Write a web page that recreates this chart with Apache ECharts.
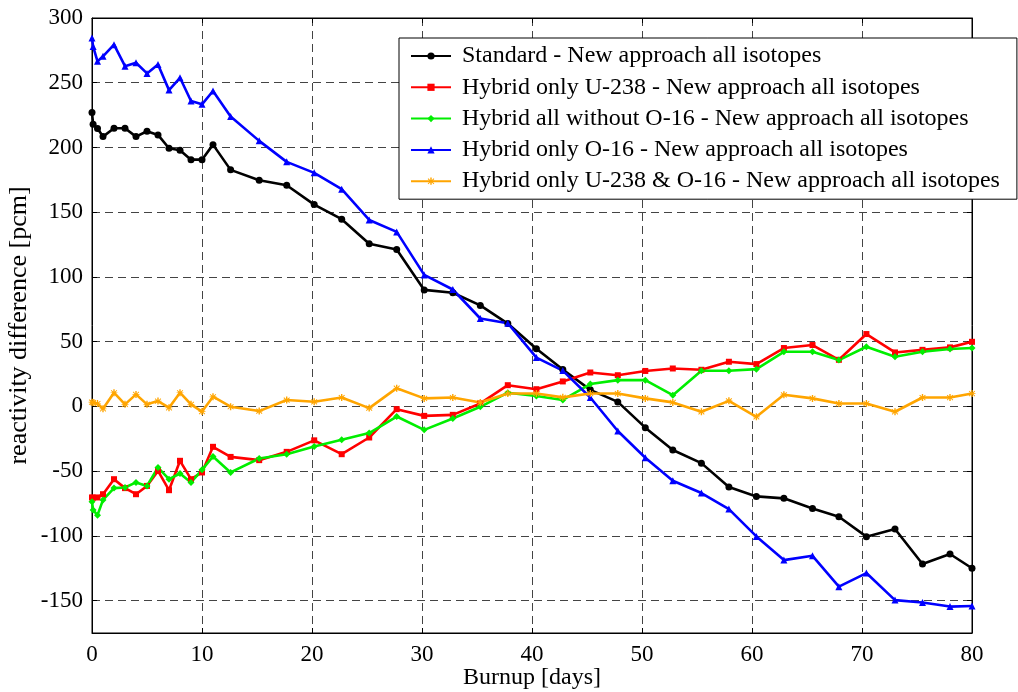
<!DOCTYPE html>
<html>
<head>
<meta charset="utf-8">
<title>Reactivity difference vs burnup</title>
<script src="https://cdn.jsdelivr.net/npm/echarts@6/dist/echarts.min.js"></script>
<style>
  html, body { margin: 0; padding: 0; background: #fff; }
  #chart { width: 1018px; height: 692px; }
</style>
</head>
<body>
<div id="chart"></div>
<script>
// Burnup steps [days]
const burnup = [0, 0.1, 0.5, 1, 2, 3, 4, 5, 6, 7, 8, 9, 10, 11,
  12.6, 15.2, 17.7, 20.2, 22.7, 25.2, 27.7, 30.2, 32.8, 35.3, 37.8, 40.4, 42.8, 45.3,
  47.8, 50.3, 52.8, 55.4, 57.9, 60.4, 62.9, 65.5, 67.9, 70.4, 73, 75.5, 78, 80];

// Reactivity differences [pcm]
const standard = [227, 218, 214.6, 208.4, 214.8, 214.8, 208.4, 212.5, 209.7, 199.4, 197.9, 190.6, 190.6, 202.2,
  182.7, 174.7, 170.8, 155.9, 144.6, 125.6, 121.2, 90, 87.8, 78, 64, 44.5, 28.5, 12.8,
  3.5, -16.4, -33.7, -43.8, -62.3, -69.5, -71, -78.8, -85.2, -100.6, -94.7, -121.7, -114, -125];

const hybridU238 = [-70.3, -70.5, -70.3, -67.8, -56.2, -63.1, -67.8, -61.4, -49.8, -64.7, -42, -56.2, -51, -31.2,
  -39, -41.5, -35.1, -26.2, -36.9, -24, -2.1, -7.3, -6.5, 2.3, 16.4, 13.3, 19.3, 26.2,
  24.1, 27.4, 29.3, 28.3, 34.5, 32.7, 45.1, 47.4, 36, 55.9, 41.7, 43.7, 45.6, 49.9];

const hybridNoO16 = [-73.7, -80, -84, -72.2, -63.1, -62.6, -58.7, -61.4, -47.2, -56.2, -51.8, -58.7, -49, -38.7,
  -51, -40.2, -36.9, -31, -25.8, -20.6, -7.8, -18.1, -9.3, -0.3, 10.6, 8, 5, 17.3,
  20.3, 20.3, 8.7, 27.5, 27.5, 28.8, 42.2, 42.2, 35.8, 46.1, 38.3, 42.2, 44.3, 45.1];

const hybridO16 = [284.6, 278, 266.5, 270.4, 279.4, 262.8, 265.4, 257.2, 264.1, 244.3, 253.8, 235.9, 233.3, 243.6,
  223.9, 205.1, 188.9, 180.4, 167.8, 144, 134.8, 101.6, 90.3, 67.9, 64.3, 37.7, 27.7, 6.9,
  -19, -39.6, -57.4, -66.9, -79.3, -100.4, -118.7, -115.4, -139.2, -128.7, -149.6, -151.4, -154.6, -154.1];

const hybridU238O16 = [3.3, 3, 2.3, -1.8, 10.6, 1.6, 9.3, 1.6, 4.1, -1, 10.6, 1.6, -4, 7.5,
  -0.2, -3.6, 4.9, 3.6, 6.9, -1.3, 14.1, 6.2, 6.9, 3, 10, 10, 7, 10,
  10, 6.2, 3.1, -4.1, 4.3, -8, 9, 6.2, 2.3, 2.3, -4.1, 6.9, 6.9, 10];

const seriesNames = [
  'Standard - New approach all isotopes',
  'Hybrid only U-238 - New approach all isotopes',
  'Hybrid all without O-16 - New approach all isotopes',
  'Hybrid only O-16 - New approach all isotopes',
  'Hybrid only U-238 & O-16 - New approach all isotopes'
];

const FONT = '"Liberation Serif", "DejaVu Serif", serif';
// small filled asterisk used as the orange marker
const asterisk = 'path://M4,0H6V3.6L8.6,1L9.6,2L7,4.6H10V5.6H7L9.6,8.2L8.6,9.2L6,6.6V10H4V6.6L1.4,9.2L0.4,8.2L3,5.6H0V4.6H3L0.4,2L1.4,1L4,3.6Z';

function pairs(ys) { return burnup.map((x, i) => [x, ys[i]]); }

function line(name, ys, color, symbol, size) {
  return {
    name: name,
    type: 'line',
    data: pairs(ys),
    symbol: symbol,
    symbolSize: size,
    showAllSymbol: true,
    lineStyle: { color: color, width: 2.6 },
    itemStyle: { color: color },
    emphasis: { disabled: true },
    animation: false
  };
}

const chart = echarts.init(document.getElementById('chart'), null, { renderer: 'canvas' });

const gridLine = { show: true, lineStyle: { color: '#444', type: [8, 5], width: 1 } };
const tickStyle = { show: true, inside: true, length: 5, lineStyle: { color: '#000' } };

chart.setOption({
  backgroundColor: '#fff',
  animation: false,
  grid: {
    left: 92, top: 18, right: 46, bottom: 59,
    containLabel: false,
    outerBoundsMode: 'none',
    show: true, borderColor: '#000', borderWidth: 1, backgroundColor: 'transparent'
  },
  legend: {
    orient: 'vertical',
    left: 399,
    top: 38,
    backgroundColor: '#fff',
    borderColor: '#000',
    borderWidth: 1,
    padding: [6, 17, 6, 11],
    itemWidth: 40,
    itemHeight: 9,
    itemGap: 7.3,
    textStyle: { fontFamily: FONT, fontSize: 24, color: '#000', padding: [0, 0, 0, 6] },
    data: seriesNames
  },
  xAxis: [{
    type: 'value',
    min: 0, max: 80, interval: 10,
    name: 'Burnup [days]',
    nameLocation: 'middle',
    nameGap: 33,
    nameMoveOverlap: false,
    nameTextStyle: { fontFamily: FONT, fontSize: 24, color: '#000' },
    axisLine: { show: true, onZero: false, lineStyle: { color: '#000' } },
    axisTick: tickStyle,
    axisLabel: { fontFamily: FONT, fontSize: 23, color: '#000', margin: 10 },
    splitLine: gridLine
  }, {
    type: 'value', position: 'top',
    min: 0, max: 80, interval: 10,
    axisLine: { show: true, onZero: false, lineStyle: { color: '#000' } },
    axisTick: tickStyle,
    axisLabel: { show: false },
    splitLine: { show: false }
  }],
  yAxis: [{
    type: 'value',
    min: -175, max: 300, splitNumber: 9,
    name: 'reactivity difference [pcm]',
    nameLocation: 'middle',
    nameGap: 60,
    nameMoveOverlap: false,
    nameTextStyle: { fontFamily: FONT, fontSize: 26, color: '#000' },
    axisLine: { show: true, onZero: false, lineStyle: { color: '#000' } },
    axisTick: tickStyle,
    axisLabel: { fontFamily: FONT, fontSize: 23, color: '#000', margin: 9, showMinLabel: false },
    splitLine: gridLine
  }, {
    type: 'value', position: 'right',
    min: -175, max: 300, splitNumber: 9,
    axisLine: { show: true, onZero: false, lineStyle: { color: '#000' } },
    axisTick: tickStyle,
    axisLabel: { show: false },
    splitLine: { show: false }
  }],
  series: [
    line(seriesNames[0], standard, '#000000', 'circle', 7),
    line(seriesNames[1], hybridU238, '#ff0000', 'rect', 6),
    line(seriesNames[2], hybridNoO16, '#00ee00', 'diamond', 7),
    line(seriesNames[3], hybridO16, '#0000ff', 'triangle', 7),
    line(seriesNames[4], hybridU238O16, '#ffa500', asterisk, 7)
  ]
});
</script>
</body>
</html>
